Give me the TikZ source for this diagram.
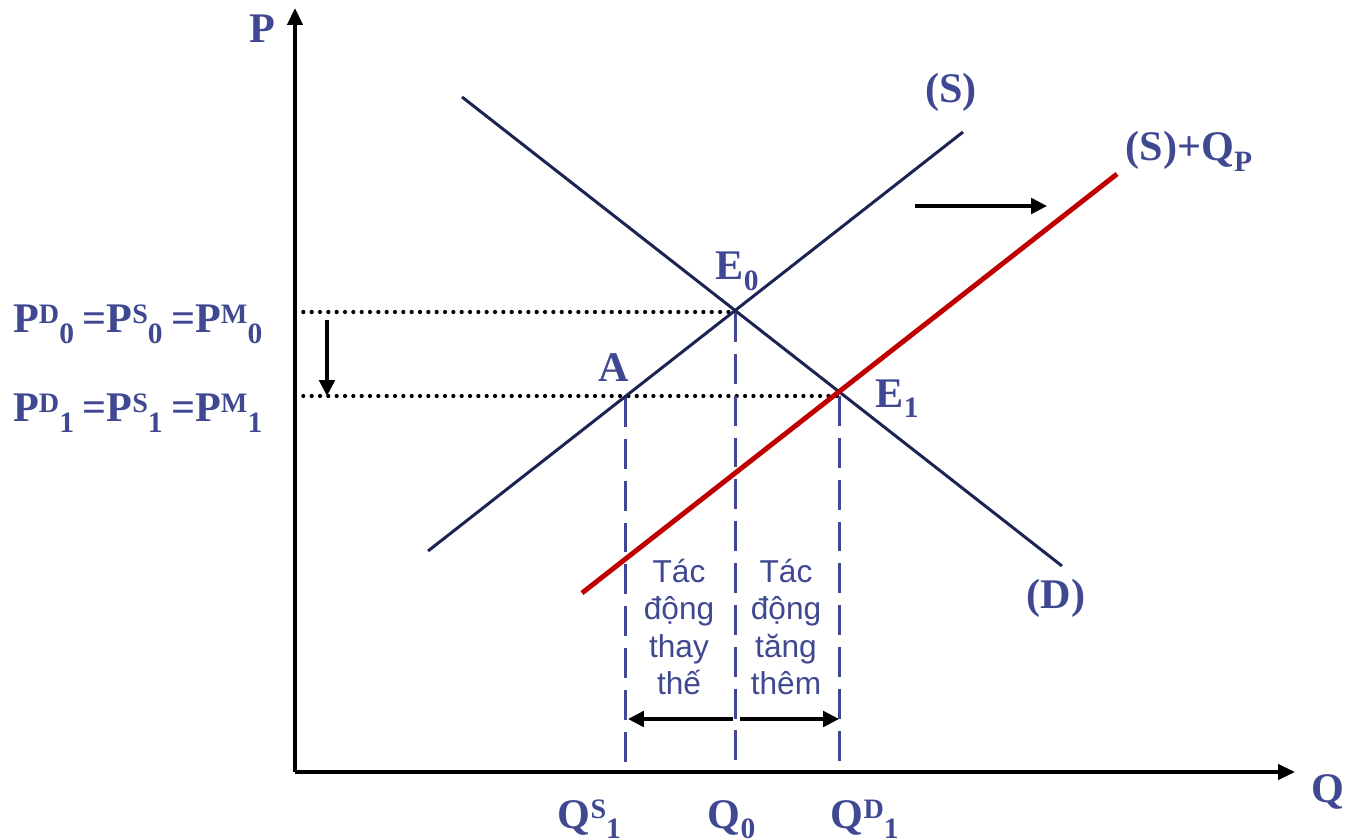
\documentclass[tikz,border=0pt]{standalone}
\usepackage{fontspec}
\setmainfont{Liberation Serif}
\newfontfamily\effectfont{Liberation Sans}
\usetikzlibrary{arrows.meta, positioning}
\definecolor{txtblue}{RGB}{64,72,145}
\definecolor{curvenavy}{RGB}{28,36,84}
\definecolor{curvered}{RGB}{192,0,0}
\newcommand{\hi}[1]{\raisebox{2.7pt}{\fontsize{8}{8}\selectfont #1}}
\newcommand{\lo}[1]{\raisebox{-3pt}{\fontsize{8.4}{8.4}\selectfont #1}}
\newcommand{\eqs}{\hspace{2.4pt}=}

\begin{document}
\begin{tikzpicture}[
    x=0.01cm, y=-0.01cm,
    axis/.style={line width=1pt, -{Triangle[length=4.8pt, width=4.3pt]}},
    curve/.style={line width=0.85pt, draw=curvenavy},
    shifted/.style={line width=1.4pt, draw=curvered},
    guide/.style={line width=0.85pt, draw=txtblue, dash pattern=on 8.5pt off 3.4pt},
    dots/.style={line width=1.2pt, line cap=round, dash pattern=on 0pt off 2.37pt},
    move/.style={line width=1pt, -{Triangle[length=4.5pt, width=4.4pt]}},
    lbl/.style={text=txtblue, font=\fontsize{12}{14}\selectfont\bfseries, inner sep=0pt},
    effect/.style={text=txtblue, font=\effectfont\fontsize{9}{10.6}\selectfont, align=center, inner sep=0pt}
  ]
    \useasboundingbox (0,0) rectangle (1346,840);

    \coordinate (O) at (295,772);
    \coordinate (Ptop) at (295,8);
    \coordinate (Qend) at (1295,772);
    \coordinate (d1) at (462,97);
    \coordinate (d2) at (1062,566);
    \coordinate (s1) at (428,551);
    \coordinate (s2) at (963,132);
    \coordinate (r1) at (582,593);
    \coordinate (r2) at (1117,174);
    \coordinate (E0) at (735,312);
    \coordinate (E1) at (839,396);
    \coordinate (A) at (625,397);

    \draw[axis] (O) -- (Ptop);
    \draw[axis] (O) -- (Qend);

    \draw[dots] (O |- E0) -- (E0);
    \draw[dots] (O |- E1) -- (E1);

    \draw[guide] (A) -- (A |- O);
    \draw[guide] (E0) -- (E0 |- O);
    \draw[guide] (E1) -- (E1 |- O);

    \draw[curve] (d1) -- (d2);
    \draw[curve] (s1) -- (s2);
    \draw[shifted] (r1) -- (r2);

    \coordinate (down1) at (327,320);
    \coordinate (down2) at (327,396);
    \coordinate (right1) at (915,206);
    \coordinate (right2) at (1047,206);
    \coordinate (sub1) at (733,719);
    \coordinate (sub2) at (628,719);
    \coordinate (add1) at (740,719);
    \coordinate (add2) at (839,719);
    \draw[move] (down1) -- (down2);
    \draw[move] (right1) -- (right2);
    \draw[move] (sub1) -- (sub2);
    \draw[move] (add1) -- (add2);

    \node[lbl, anchor=base] (plabel) at (262,43) {P};
    \node[lbl, anchor=base] (qlabel) at (1328,802) {Q};
    \node[lbl, anchor=base] (slabel) at (951,103) {(S)};
    \node[lbl, anchor=base west] (sqlabel) at (1125,161) {(S)+Q\lo{P}};
    \node[lbl, anchor=base] (dlabel) at (1056,608) {(D)};
    \node[lbl, anchor=base west] (e0label) at (715,280) {E\lo{0}};
    \node[lbl, anchor=base west] (e1label) at (875,407) {E\lo{1}};
    \node[lbl, anchor=base] (alabel) at (614,382) {A};
    \node[lbl, anchor=base east] (p0label) at (263,333) {P\hi{D}\lo{0}\eqs P\hi{S}\lo{0}\eqs P\hi{M}\lo{0}};
    \node[lbl, anchor=base east] (p1label) at (263,422) {P\hi{D}\lo{1}\eqs P\hi{S}\lo{1}\eqs P\hi{M}\lo{1}};
    \node[lbl, anchor=base west] (qs1label) at (557,828) {Q\hi{S}\lo{1}};
    \node[lbl, anchor=base west] (q0label) at (707,828) {Q\lo{0}};
    \node[lbl, anchor=base west] (qd1label) at (830,828) {Q\hi{D}\lo{1}};

    \node[effect] (subst) at (679,627) {Tác\\động\\thay\\thế};
    \node[effect] (extra) at (786,627) {Tác\\động\\tăng\\thêm};
  \end{tikzpicture}
\end{document}
